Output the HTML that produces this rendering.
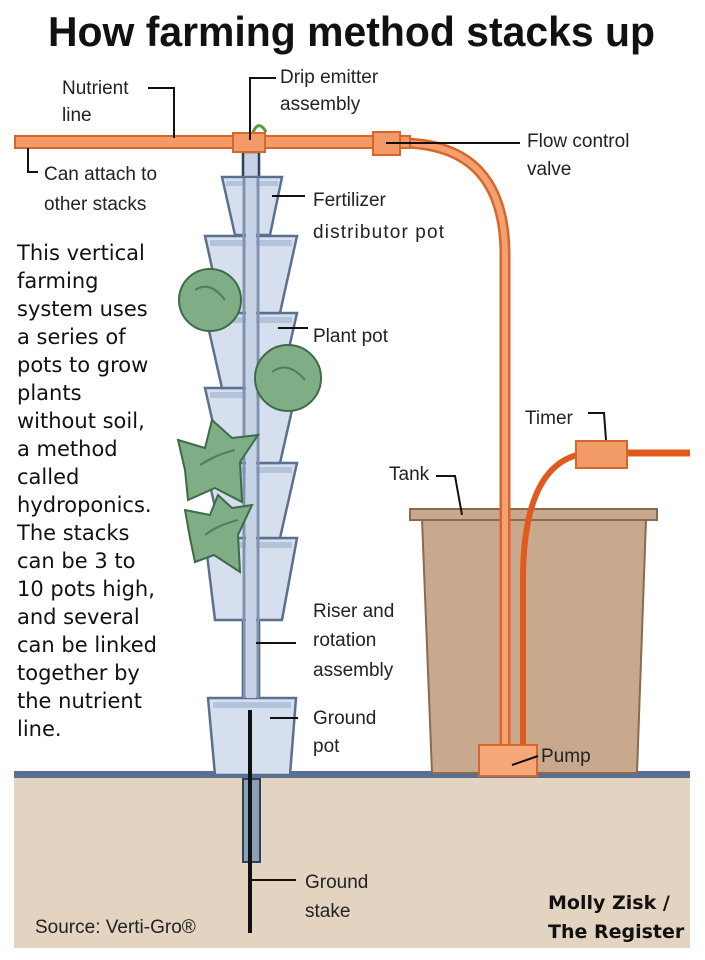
<!DOCTYPE html>
<html><head><meta charset="utf-8"><style>
body{margin:0;background:#fff}
svg{display:block}
.l{font-family:"Liberation Sans Narrow","Liberation Sans",sans-serif;font-size:19px;fill:#222}
.p{font-family:"DejaVu Sans","Liberation Sans",sans-serif;font-size:21px;fill:#111}
</style></head><body>
<svg width="705" height="960" viewBox="0 0 705 960" xmlns="http://www.w3.org/2000/svg">
<text x="48" y="46" font-family="Liberation Sans Narrow,Liberation Sans,sans-serif" font-weight="bold" font-size="42" textLength="607" lengthAdjust="spacingAndGlyphs" fill="#111">How farming method stacks up</text>

<!-- soil -->
<rect x="14" y="777" width="676" height="171" fill="#e3d3c1"/>
<rect x="14" y="771" width="676" height="7" fill="#5b7090"/>

<!-- tank -->
<polygon points="422,519 646,519 637,773 432,773" fill="#c9a98d" stroke="#8b6a4f" stroke-width="2"/>
<rect x="410" y="509" width="247" height="11" fill="#c9a98d" stroke="#8b6a4f" stroke-width="2"/>

<!-- pipes -->
<path d="M400,143 Q505,143 505,255 L505,745" fill="none" stroke="#d8662a" stroke-width="11"/>
<path d="M400,143 Q505,143 505,255 L505,745" fill="none" stroke="#f5a070" stroke-width="6"/>
<path d="M577,455 Q523,470 523,580 L523,745" fill="none" stroke="#e05a1e" stroke-width="6"/>
<line x1="627" y1="453" x2="690" y2="453" stroke="#e05a1e" stroke-width="7"/>
<rect x="576" y="441" width="51" height="27" fill="#f29a68" stroke="#d8662a" stroke-width="2"/>
<rect x="479" y="745" width="58" height="31" fill="#f6a77a" stroke="#d8662a" stroke-width="2"/>

<!-- nutrient line -->
<rect x="15" y="136" width="395" height="12" fill="#f29a68" stroke="#d8662a" stroke-width="2"/>

<!-- stake -->
<rect x="243" y="779" width="17" height="83" fill="#8aa0b8" stroke="#2f4257" stroke-width="2"/>

<!-- stack -->
<rect x="243" y="152" width="16" height="548" fill="#c6d3e4" stroke="#2f4257" stroke-width="2.5"/>
<g stroke="#5b7090" stroke-width="2.5" fill="#d5dfee">
<polygon points="208,698 296,698 290,775 215,775"/>
<polygon points="205,538 297,538 282,620 215,620"/>
<polygon points="205,463 297,463 280,538 222,538"/>
<polygon points="205,388 297,388 280,463 222,463"/>
<polygon points="205,313 297,313 280,388 222,388"/>
<polygon points="205,236 297,236 280,313 222,313"/>
<polygon points="222,177 282,177 270,235 235,235"/>
</g>
<g fill="#b3c3da">
<rect x="210" y="240" width="82" height="6"/><rect x="210" y="317" width="82" height="6"/>
<rect x="210" y="392" width="82" height="6"/><rect x="210" y="467" width="82" height="6"/>
<rect x="210" y="542" width="82" height="6"/><rect x="213" y="702" width="78" height="6"/>
<rect x="226" y="181" width="52" height="5"/>
</g>
<g stroke="#7f93b0" stroke-width="3">
<line x1="244" y1="178" x2="244" y2="698"/><line x1="258" y1="178" x2="258" y2="698"/>
</g>
<rect x="246" y="178" width="10" height="520" fill="#c6d3e4"/>
<path d="M252,152 L252,135 Q258,118 266,132" fill="none" stroke="#5a9a3a" stroke-width="3"/>
<rect x="233" y="133" width="32" height="19" fill="#f29a68" stroke="#d8662a" stroke-width="2"/>
<rect x="373" y="132" width="27" height="23" fill="#f29a68" stroke="#d8662a" stroke-width="2"/>
<line x1="250" y1="710" x2="250" y2="933" stroke="#111" stroke-width="4"/>

<!-- plants -->
<g fill="#7fae86" stroke="#3e6b47" stroke-width="2">
<circle cx="210" cy="300" r="31"/>
<circle cx="288" cy="378" r="33"/>
<path d="M185,470 L178,440 L205,448 L212,420 L232,438 L258,435 L240,462 L242,502 L215,488 L188,500 Z"/>
<path d="M190,538 L185,510 L210,515 L218,495 L232,508 L252,505 L238,535 L240,572 L214,555 L195,562 Z"/>
</g>
<g fill="none" stroke="#4d7f58" stroke-width="2">
<path d="M195,290 Q210,280 225,300"/><path d="M272,372 Q288,360 305,380"/>
<path d="M200,465 Q215,455 235,450"/><path d="M205,535 Q218,525 238,520"/>
</g>

<!-- leader lines -->
<g stroke="#111" stroke-width="2" fill="none">
<polyline points="148,88 174,88 174,138"/>
<polyline points="276,78 250,78 250,140"/>
<polyline points="28,148 28,172 38,172"/>
<line x1="386" y1="143" x2="520" y2="143"/>
<line x1="272" y1="196" x2="305" y2="196"/>
<line x1="278" y1="328" x2="308" y2="328"/>
<polyline points="588,413 604,413 606,440"/>
<polyline points="436,476 455,476 462,515"/>
<line x1="256" y1="643" x2="296" y2="643"/>
<line x1="270" y1="718" x2="298" y2="718"/>
<line x1="512" y1="765" x2="538" y2="756"/>
<line x1="252" y1="880" x2="296" y2="880"/>
</g>

<!-- labels -->
<text class="l" x="62" y="94">Nutrient</text><text class="l" x="62" y="121">line</text>
<text class="l" x="280" y="83">Drip emitter</text><text class="l" x="280" y="110">assembly</text>
<text class="l" x="44" y="180">Can attach to</text><text class="l" x="44" y="210">other stacks</text>
<text class="l" x="527" y="147">Flow control</text><text class="l" x="527" y="175">valve</text>
<text class="l" x="313" y="206">Fertilizer</text><text class="l" x="313" y="238" textLength="131">distributor pot</text>
<text class="l" x="313" y="342">Plant pot</text>
<text class="l" x="525" y="424">Timer</text>
<text class="l" x="389" y="480">Tank</text>
<text class="l" x="313" y="617">Riser and</text><text class="l" x="313" y="646">rotation</text><text class="l" x="313" y="676">assembly</text>
<text class="l" x="313" y="724">Ground</text><text class="l" x="313" y="752">pot</text>
<text class="l" x="541" y="762">Pump</text>
<text class="l" x="305" y="888">Ground</text><text class="l" x="305" y="917">stake</text>
<text class="l" x="35" y="933">Source: Verti-Gro®</text>
<text x="548" y="909" font-family="DejaVu Sans,sans-serif" font-weight="bold" font-size="19" fill="#111">Molly Zisk /</text>
<text x="548" y="938" font-family="DejaVu Sans,sans-serif" font-weight="bold" font-size="19" fill="#111">The Register</text>
<g class="p">
<text x="17" y="260">This vertical</text>
<text x="17" y="288">farming</text>
<text x="17" y="316">system uses</text>
<text x="17" y="344">a series of</text>
<text x="17" y="372">pots to grow</text>
<text x="17" y="400">plants</text>
<text x="17" y="428">without soil,</text>
<text x="17" y="456">a method</text>
<text x="17" y="484">called</text>
<text x="17" y="512">hydroponics.</text>
<text x="17" y="540">The stacks</text>
<text x="17" y="568">can be 3 to</text>
<text x="17" y="596">10 pots high,</text>
<text x="17" y="624">and several</text>
<text x="17" y="652">can be linked</text>
<text x="17" y="680">together by</text>
<text x="17" y="708">the nutrient</text>
<text x="17" y="736">line.</text>
</g>
</svg>
</body></html>
